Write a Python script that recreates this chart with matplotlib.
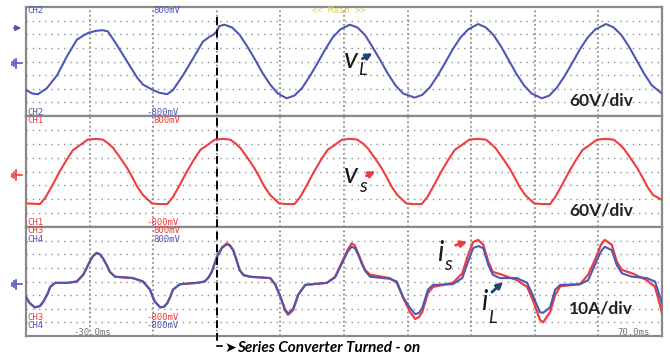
import matplotlib
matplotlib.use("Agg")
import matplotlib.pyplot as plt
from matplotlib.lines import Line2D
from matplotlib.patches import FancyArrowPatch

# ---- data (time in ms, value in divisions) ----
t_vL = [-30.0, -29.0, -28.1, -26.7, -25.1, -23.6, -22.0, -21.0, -20.2, -19.0,
        -17.9, -17.1, -15.7, -14.1, -12.5, -11.6, -10.0, -9.0, -7.8, -6.9,
        -5.3, -3.7, -2.2, -1.2, -0.6, 0.0, 0.4, 1.2, 2.4, 3.6, 4.8, 6.0, 7.2,
        8.4, 9.6, 11.0, 12.2, 13.4, 14.6, 15.8, 17.0, 18.2, 19.4, 20.9, 22.1,
        23.3, 24.5, 25.7, 26.9, 28.1, 29.3, 31.1, 32.3, 33.5, 34.7, 35.9, 37.1,
        38.3, 39.5, 41.1, 42.3, 43.5, 44.7, 45.9, 47.1, 48.3, 49.5, 51.1, 52.3,
        53.5, 54.7, 55.9, 57.1, 58.3, 59.5, 61.2, 62.4, 63.6, 64.8, 66.0, 67.2,
        68.4, 70.0]
v_L = [-2.1, -2.35, -2.4, -1.95, -1.0, 0.35, 1.6, 1.9, 2.1, 2.25,
       2.3, 2.2, 1.2, 0.0, -1.2, -1.7, -2.1, -2.3, -2.4, -2.1,
       -1.0, 0.25, 1.45, 1.8, 1.95, 2.2, 2.6, 2.7, 2.5, 1.95, 1.1, 0.15, -0.85,
       -1.7, -2.35, -2.7, -2.5, -1.95, -1.1, -0.15, 0.85, 1.75, 2.35, 2.7, 2.5,
       1.95, 1.05, 0.1, -0.9, -1.75, -2.35, -2.65, -2.45, -1.9, -1.05, -0.1, 0.9,
       1.75, 2.35, 2.75, 2.5, 1.95, 1.1, 0.1, -0.9, -1.75, -2.35, -2.7, -2.5,
       -1.9, -1.05, -0.1, 0.9, 1.75, 2.35, 2.75, 2.5, 1.95, 1.1, 0.1, -0.9,
       -1.75, -2.35]

t_vs = [-30.0, -27.8, -26.9, -25.8, -24.7, -23.6, -22.6, -21.5, -20.3, -19.0,
        -17.9, -17.0, -16.3, -15.2, -14.1, -13.3, -12.5, -11.6, -10.9, -10.2,
        -9.0, -7.8, -6.9, -5.8, -4.7, -3.6, -2.6, -1.5, -0.3, 1.0, 2.1, 3.0,
        3.7, 4.8, 5.9, 6.7, 7.5, 8.4, 9.1, 9.8, 11.0, 12.2, 13.1, 14.2, 15.3,
        16.4, 17.4, 18.5, 19.7, 21.0, 22.1, 23.0, 23.7, 24.8, 25.9, 26.7, 27.5,
        28.4, 29.1, 29.8, 31.0, 32.2, 33.1, 34.2, 35.3, 36.4, 37.4, 38.5, 39.7,
        41.0, 42.3, 43.1, 43.8, 44.9, 46.0, 46.8, 47.6, 48.5, 49.2, 49.9, 51.2,
        52.4, 53.2, 54.3, 55.4, 56.5, 57.5, 58.6, 59.8, 61.1, 62.4, 63.2, 63.9,
        65.0, 66.1, 66.9, 67.7, 68.6, 70.0]
v_s = [-2.3, -2.35, -1.85, -0.95, 0.0, 0.85, 1.55, 1.9, 2.3, 2.35,
       2.3, 2.0, 1.7, 1.0, 0.25, -0.4, -1.1, -1.7, -2.0, -2.3,
       -2.35, -2.35, -1.85, -0.95, 0.0, 0.85, 1.55, 1.9, 2.3, 2.35, 2.3, 2.0,
       1.7, 1.0, 0.25, -0.4, -1.1, -1.7, -2.0, -2.3, -2.35, -2.35, -1.85, -0.95, 0.0,
       0.85, 1.55, 1.9, 2.3, 2.35, 2.3, 2.0, 1.7, 1.0, 0.25, -0.4, -1.1,
       -1.7, -2.0, -2.3, -2.35, -2.35, -1.85, -0.95, 0.0, 0.85, 1.55, 1.9, 2.3,
       2.35, 2.3, 2.0, 1.7, 1.0, 0.25, -0.4, -1.1, -1.7, -2.0, -2.3, -2.35,
       -2.35, -1.85, -0.95, 0.0, 0.85, 1.55, 1.9, 2.3, 2.35, 2.3, 2.0, 1.7,
       1.0, 0.25, -0.4, -1.1, -1.7, -2.05]

t_cur = [-30.0, -29.4, -28.6, -27.8, -27.3, -26.6, -26.2, -25.4, -23.5, -22.0,
         -21.0, -20.5, -20.0, -19.5, -18.9, -18.4, -17.9, -17.3, -16.8, -16.0,
         -13.2, -11.6, -10.5, -10.1, -9.7, -8.9, -8.3, -7.8, -7.3, -6.9,
         -5.8, -3.1, -1.9, -1.3, -0.8, 0.0, 0.8, 1.6, 2.1, 2.6,
         3.1, 3.6, 4.2, 5.2, 8.4, 9.2, 10.0, 10.7, 11.2, 12.0,
         12.8, 13.9, 17.3, 18.6, 19.7, 20.6, 21.2, 21.7, 22.2, 22.8,
         23.3, 24.1, 27.2, 28.3, 29.3, 30.4, 31.2, 31.8, 32.3, 33.2,
         34.0, 37.1, 38.6, 39.5, 40.3, 41.1, 41.9, 42.7, 43.4, 44.5,
         47.2, 48.8, 49.8, 50.8, 51.3, 52.4, 53.2, 54.0, 57.1, 58.4,
         59.8, 60.4, 61.0, 62.1, 62.9, 63.7, 65.3, 67.6, 68.9, 69.7, 70.0]
i_s = [-1.15, -1.6, -1.9, -1.8, -1.5, -0.9, -0.4, -0.1, -0.1, 0.0,
       0.5, 0.95, 1.45, 1.85, 2.1, 2.0, 1.7, 1.2, 0.7, 0.35,
       0.25, 0.0, -0.6, -1.1, -1.5, -1.9, -1.85, -1.6, -1.1, -0.6,
       -0.2, -0.1, 0.0, 0.3, 0.7, 1.8, 2.5, 2.8, 2.65, 2.3,
       1.6, 0.85, 0.5, 0.35, 0.25, -0.25, -1.15, -2.1, -2.45, -2.1,
       -1.0, -0.25, -0.1, 0.35, 1.45, 2.35, 2.8, 2.65, 2.1, 1.4,
       0.85, 0.5, 0.25, -0.1, -1.2, -2.25, -2.75, -2.6, -2.25, -0.85,
       -0.4, -0.1, 0.6, 1.95, 2.9, 3.05, 2.7, 1.45, 0.7, 0.55,
       0.1, -0.4, -1.5, -2.8, -3.0, -2.25, -1.0, -0.35, -0.2, 0.5,
       1.95, 2.7, 3.05, 2.7, 1.45, 0.85, 0.6, 0.1, -0.4, -1.75, -2.3]
i_L = [-1.15, -1.6, -1.9, -1.8, -1.5, -0.9, -0.4, -0.1, -0.1, 0.0,
       0.5, 0.95, 1.45, 1.85, 2.1, 2.0, 1.7, 1.2, 0.7, 0.35,
       0.25, 0.0, -0.6, -1.1, -1.5, -1.9, -1.85, -1.6, -1.1, -0.6,
       -0.2, -0.1, 0.0, 0.3, 0.7, 1.75, 2.45, 2.75, 2.6, 2.25,
       1.55, 0.8, 0.45, 0.35, 0.25, -0.2, -1.1, -2.0, -2.35, -2.0,
       -0.95, -0.25, -0.1, 0.3, 1.35, 2.2, 2.55, 2.45, 2.0, 1.3,
       0.8, 0.35, 0.2, 0.0, -1.15, -1.95, -2.4, -2.3, -1.95, -0.6,
       -0.25, -0.2, 0.25, 1.45, 2.45, 2.6, 2.45, 1.2, 0.5, 0.25,
       0.25, -0.1, -1.15, -2.25, -2.3, -1.9, -0.6, -0.25, -0.2, 0.1,
       1.6, 2.2, 2.55, 2.3, 1.2, 0.6, 0.35, 0.25, 0.0, -1.15, -1.6]

BLUE = "#4c58b8"
RED = "#f03c3c"
NAVY = "#1f4470"
GRID = "#8f8f8f"
W, H = 670, 359


def fx(x):
    return x / W


def fy(y):
    return 1 - y / H


fig = plt.figure(figsize=(6.7, 3.59), dpi=100)
fig.patch.set_facecolor("white")

left, right = 26, 662
panels = [(7, 116), (116, 227), (227, 336)]
axes = []
for top, bot in panels:
    ax = fig.add_axes([fx(left), fy(bot), (right - left) / W, (bot - top) / H])
    ax.set_xlim(-30, 70)
    ax.set_ylim(-4, 4)
    ax.set_xticks([])
    ax.set_yticks([])
    for s in ax.spines.values():
        s.set_color("#8a8a8a")
        s.set_linewidth(1.6)
    for gx in range(-20, 70, 10):
        ax.axvline(gx, color=GRID, lw=1.3, ls=(0, (1, 1.5)), zorder=1)
    for gy in range(-3, 4):
        ax.axhline(gy, color=GRID, lw=1.0, ls=(0, (1, 3.5)), zorder=1)
    axes.append(ax)

axes[0].plot(t_vL, v_L, color=BLUE, lw=1.5, zorder=3)
axes[1].plot(t_vs, v_s, color=RED, lw=1.5, zorder=3)
axes[2].plot(t_cur, i_s, color=RED, lw=1.6, zorder=3)
axes[2].plot(t_cur, i_L, color=BLUE, lw=1.5, zorder=4)

# scope labels (small monospace, like the scope's own font)
mono = dict(family="DejaVu Sans Mono", fontsize=6.5, va="baseline")
scope_labels = [
    (27, 13, "CH2", BLUE), (153, 13, "800mV", BLUE), (312, 13, "<< Main >>", "#d9cf5a"),
    (27, 115, "CH2", BLUE), (146, 115, "-800mV", BLUE),
    (27, 123, "CH1", RED), (153, 123, "800mV", RED),
    (27, 225.5, "CH1", RED), (146, 225.5, "-800mV", RED),
    (27, 233, "CH3", RED), (153, 233, "800mV", RED),
    (27, 241.5, "CH4", BLUE), (153, 241.5, "800mV", BLUE),
    (27, 319.5, "CH3", RED), (146, 319.5, "-800mV", RED),
    (27, 328, "CH4", BLUE), (146, 328, "-800mV", BLUE),
    (73, 335, "-30.0ms", "#777777"), (617, 335, "70.0ms", "#777777"),
]
for x, y, txt, c in scope_labels:
    fig.text(fx(x), fy(y), txt, color=c, **mono)


# ground markers on the left edge
def ground(y, color):
    fig.add_artist(Line2D([fx(22), fx(16)], [fy(y), fy(y)], color=color, lw=1.2))
    for xx, h in [(16, 4.5), (14, 3), (12, 1.5)]:
        fig.add_artist(Line2D([fx(xx), fx(xx)], [fy(y - h), fy(y + h)], color=color, lw=1.2))


ground(63, BLUE)
ground(175, RED)
ground(284, BLUE)
fig.add_artist(FancyArrowPatch((fx(11), fy(28)), (fx(24), fy(28)), transform=fig.transFigure,
                               arrowstyle="-|>", mutation_scale=8, color=BLUE, lw=1.2))

# turn-on marker
x0 = fx(left) + (0 - (-30)) / 100 * (right - left) / W
fig.add_artist(Line2D([x0, x0], [fy(17), fy(346)], color="black", lw=1.4, ls=(0, (4, 2.5)), zorder=10))
fig.add_artist(Line2D([x0, x0 + fx(5)], [fy(346), fy(346)], color="black", lw=1.2))
fig.text(fx(224), fy(348), "\u27a4", fontsize=10, color="black", va="center", family="DejaVu Sans")
lab = dict(family=["Lato", "DejaVu Sans"])
fig.text(fx(237), fy(348), "Series Converter Turned - on", fontsize=11, fontweight="bold",
         fontstyle="italic", va="center", **lab)

# per-div labels
for y, txt in [(100, "60V/div"), (210, "60V/div"), (309, "10A/div")]:
    fig.text(fx(601), fy(y), txt, fontsize=12.5, fontweight="bold", ha="center", va="center",
             color="#222222", **lab)

# signal names
it = dict(fontstyle="italic", color="#1a1a1a", va="baseline", **lab)
fig.text(fx(344), fy(68), "v", fontsize=21, **it)
fig.text(fx(358), fy(75), "L", fontsize=13, **it)
fig.text(fx(344), fy(183), "v", fontsize=21, **it)
fig.text(fx(359), fy(192), "s", fontsize=14, **it)
fig.text(fx(437), fy(261), "i", fontsize=20, **it)
fig.text(fx(444), fy(270), "s", fontsize=14, **it)
fig.text(fx(481), fy(310), "i", fontsize=20, **it)
fig.text(fx(488), fy(323), "L", fontsize=13, **it)

for (x1, y1), (x2, y2), c in [((360, 60), (375, 52), NAVY), ((364, 177), (378, 170), RED),
                               ((453, 246), (470, 241), RED), ((490, 294), (505, 280), NAVY)]:
    fig.add_artist(FancyArrowPatch((fx(x1), fy(y1)), (fx(x2), fy(y2)), transform=fig.transFigure,
                                   arrowstyle="-|>", mutation_scale=9, color=c, lw=2))

fig.savefig("out.png", dpi=100)
